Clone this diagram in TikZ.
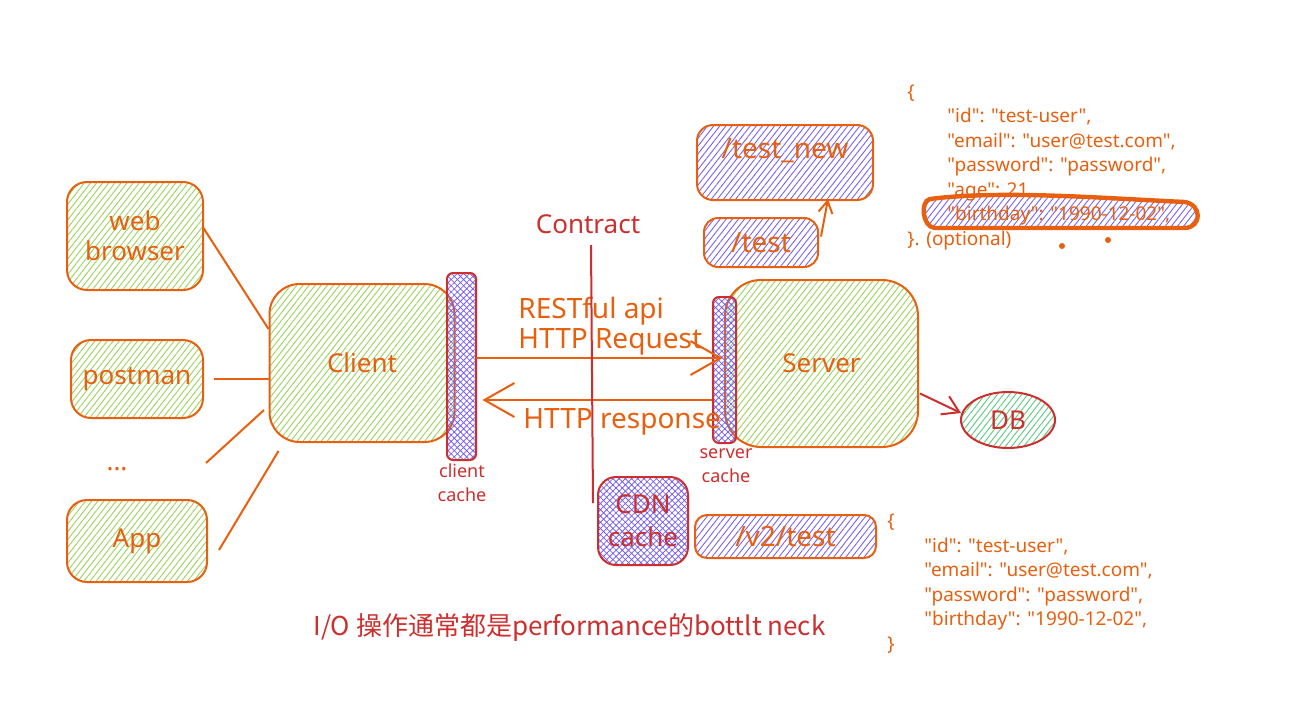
\documentclass[tikz,border=0pt]{standalone}
\usepackage{fontspec}
\setmainfont{Noto Sans}[Ligatures=TeXOff]
\newfontfamily\cjk{Noto Sans CJK SC}
\usetikzlibrary{arrows.meta,patterns.meta,shapes.geometric,calc}
\definecolor{exorange}{HTML}{E8600F}
\definecolor{exred}{HTML}{CD2F2F}
\definecolor{hatchgreen}{HTML}{9BD35C}
\definecolor{hatchteal}{HTML}{5CC97E}
\definecolor{hatchpurple}{HTML}{7A62F0}
\tikzset{
  hatchbox/.style={line width=1pt, rounded corners=#1,
    pattern={Lines[angle=52,distance=2.4pt,line width=0.45pt]}},
  greenbox/.style={hatchbox=#1, draw=exorange, pattern color=hatchgreen,
    text=exorange, font=\fontsize{13}{15}\selectfont, align=center},
  purplebox/.style={hatchbox=#1, draw=exorange, pattern color=hatchpurple,
    text=exorange, font=\fontsize{14}{16}\selectfont},
  cachebox/.style={draw=exred, line width=1pt, rounded corners=3pt,
    pattern={Hatch[angle=45,distance=2.2pt,line width=0.4pt]}, pattern color=hatchpurple},
  olabel/.style={text=exorange, inner sep=0pt, font=\fontsize{14}{16}\selectfont},
  rlabel/.style={text=exred, inner sep=0pt, align=center, font=\fontsize{9}{12}\selectfont},
  jsonbox/.style={text=exorange, inner sep=0pt, align=left, anchor=base west,
    font=\fontsize{9.5}{12.25}\selectfont},
  conn/.style={draw=exorange, line width=1pt},
  oarrow/.style={draw=exorange, line width=1pt, -{Straight Barb[length=15pt,width=17pt]}},
  rarrow/.style={draw=exred, line width=1pt, -{Straight Barb[length=8pt,width=10pt]}},
}
\begin{document}
\begin{tikzpicture}[x=0.5pt,y=-0.5pt]
\fill[white] (0,0) rectangle (1294,712);
\useasboundingbox (0,0) rectangle (1294,712);

% left-hand clients
\node[greenbox=10pt, minimum width=68pt, minimum height=54pt] (web) at (135,236) {web\\browser};
\node[greenbox=10pt, minimum width=66pt, minimum height=39pt] (postman) at (137,379) {postman};
\node[text=exorange, inner sep=0pt, anchor=base, font=\fontsize{13}{15}\selectfont] (dots) at (117,470) {...};
\node[greenbox=10pt, minimum width=70pt, minimum height=41pt] (app) at (137,541) {App};

% client
\node[greenbox=15pt, minimum width=92.5pt, minimum height=79pt] (client) at (362,363) {Client};
\node[cachebox, minimum width=14.5pt, minimum height=93.5pt] (ccache) at (461.5,366.5) {};
\node[rlabel] (cclabel) at (462,483) {client\\cache};

% server
\node[greenbox=18pt, minimum width=96.5pt, minimum height=83.5pt] (server) at (821.5,363.5) {Server};
\node[cachebox, minimum width=11.5pt, minimum height=73pt] (scache) at (724.5,370) {};
\node[rlabel] (sclabel) at (726,466) {server\\cache};

% DB
\node[ellipse, draw=exred, line width=1pt, minimum width=47pt, minimum height=28pt,
  pattern={Lines[angle=52,distance=2.4pt,line width=0.45pt]}, pattern color=hatchteal,
  text=exred, font=\fontsize{13}{15}\selectfont] (db) at (1008,420) {DB};

% endpoints
\node[purplebox=8pt, minimum width=88pt, minimum height=37.5pt, text depth=14pt] (testnew) at (785,162.5) {/test\_new};
\node[purplebox=7pt, minimum width=57pt, minimum height=24.5pt] (test) at (761,242.5) {/test};
\node[purplebox=6pt, minimum width=90.5pt, minimum height=21.5pt] (v2) at (785.5,536.5) {/v2/test};
\node[cachebox, rounded corners=9pt, minimum width=45pt, minimum height=44pt, text=exred, align=center,
  font=\fontsize{13}{16.5}\selectfont] (cdn) at (643,521) {CDN\\cache};

% connectors from clients
\draw[conn] ($(web.east)+(0,-8)$) -- (client.160);
\draw[conn] ($(postman.east)+(10,0)$) -- (client.west |- postman.east);
\coordinate (dl1) at (206,463);
\coordinate (dl2) at (264,410);
\draw[conn] (dl1) -- (dl2);
\draw[conn] ($(app.east)+(11,9)$) -- ($(client.south west)+(10,8)$);

% request / response
\draw[oarrow] ($(ccache.east)+(0,-8.5)$) -- ($(scache.center)+(-2,-12)$);
\draw[oarrow] ($(scache.west)+(0,30)$) -- ($(ccache.east)+(6,33.5)$);
\node[olabel, anchor=west] (rest) at (518,311) {RESTful api};
\node[olabel, anchor=west] (httpreq) at (518,342) {HTTP Request};
\node[olabel, anchor=west] (httpres) at (523,422) {HTTP response};

% server -> DB, test -> test_new
\draw[rarrow] ($(server.east)+(1,30)$) -- ($(db.west)+(1,-7)$);
\draw[draw=exorange, line width=1pt, -{Straight Barb[length=6pt,width=7pt]}] ($(test.east)+(2,-6)$) -- ($(testnew.south)+(43,-2)$);

% contract
\node[text=exred, inner sep=0pt, font=\fontsize{13}{15}\selectfont] (contract) at (588,224) {Contract};
\coordinate (ctop) at (591,245);
\coordinate (cbot) at (593,503);
\draw[exred, line width=1pt] (ctop) -- (cbot);

% JSON top with highlight
\draw[exorange, line width=2.2pt, pattern={Lines[angle=52,distance=2.4pt,line width=0.45pt]}, pattern color=hatchpurple]
  (930,199) .. controls (1000,190) and (1100,198) .. (1185,202)
  .. controls (1202,205) and (1202,227) .. (1185,228)
  -- (935,228) .. controls (922,227) and (920,201) .. (930,199) -- cycle;
\node[jsonbox] (json1) at (907,245) {\{\\
\hspace*{20pt}"id": "test-user",\\
\hspace*{20pt}"email": "user@test.com",\\
\hspace*{20pt}"password": "password",\\
\hspace*{20pt}"age": 21,\\
\hspace*{20pt}"birthday": "1990-12-02",\\
\}. (optional)};
\fill[exorange] (1062,246) circle (3);
\fill[exorange] (1108,240) circle (3);

% JSON bottom
\node[jsonbox] (json2) at (887,650) {\{\\
\hspace*{18.5pt}"id": "test-user",\\
\hspace*{18.5pt}"email": "user@test.com",\\
\hspace*{18.5pt}"password": "password",\\
\hspace*{18.5pt}"birthday": "1990-12-02",\\
\}};

% caption
\node[text=exred, inner sep=0pt, anchor=west, font=\cjk\fontsize{13}{15}\selectfont] (caption) at (313,627) {I/O 操作通常都是performance的bottlt neck};
\end{tikzpicture}
\end{document}
